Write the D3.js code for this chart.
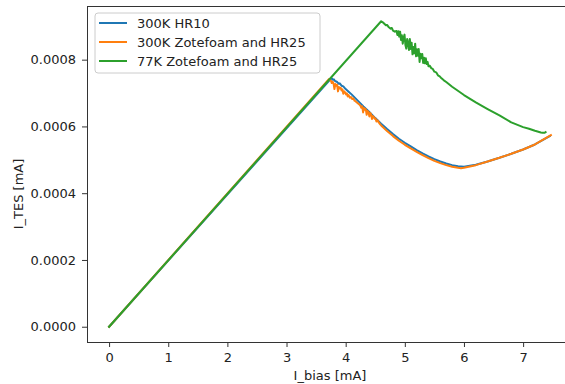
<!DOCTYPE html>
<html>
<head>
<meta charset="utf-8">
<script src="https://cdn.jsdelivr.net/npm/d3@7"></script>
<style>
  body { margin: 0; background: #fff; }
  svg { display: block; font-family: "DejaVu Sans", sans-serif; }
  .tick text { fill: #222; }
</style>
</head>
<body>
<div id="chart"></div>
<script>
// I_bias [mA] / I_TES [1e-4 mA]
const hr10X = [0, 3.76, 3.78, 3.80, 3.82, 3.85, 3.88, 3.90, 3.93, 3.96, 4.00, 4.05, 4.10, 4.20, 4.30, 4.40, 4.50, 4.60, 4.70, 4.80, 4.90, 5.00, 5.10, 5.20, 5.30, 5.40, 5.50, 5.60, 5.70, 5.80, 5.90, 6.00, 6.20, 6.40, 6.60, 6.80, 7.00, 7.20, 7.45];
const hr10Y = [0, 7.45, 7.40, 7.41, 7.36, 7.34, 7.28, 7.29, 7.22, 7.20, 7.12, 7.04, 6.96, 6.78, 6.60, 6.43, 6.25, 6.08, 5.92, 5.77, 5.63, 5.51, 5.40, 5.29, 5.19, 5.10, 5.02, 4.95, 4.89, 4.84, 4.81, 4.79, 4.85, 4.95, 5.06, 5.18, 5.31, 5.46, 5.71];

const zoteX = [0, 3.72, 3.735, 3.75, 3.765, 3.78, 3.795, 3.81, 3.825, 3.84, 3.855, 3.87, 3.885, 3.90, 3.915, 3.93, 3.945, 3.96, 3.975, 3.99, 4.005, 4.02, 4.035, 4.05, 4.07, 4.09, 4.11, 4.13, 4.15, 4.17, 4.19, 4.21, 4.23, 4.25, 4.265, 4.28, 4.295, 4.31, 4.325, 4.34, 4.355, 4.37, 4.385, 4.40, 4.415, 4.43, 4.445, 4.46, 4.475, 4.49, 4.505, 4.52, 4.54, 4.56, 4.58, 4.60,
  4.70, 4.80, 4.90, 5.00, 5.10, 5.20, 5.30, 5.40, 5.50, 5.60, 5.70, 5.80, 5.90, 5.95, 6.00, 6.20, 6.40, 6.60, 6.80, 7.00, 7.20, 7.47];
const zoteY = [0, 7.42, 7.38, 7.37, 7.30, 7.34, 7.28, 7.12, 7.27, 7.22, 7.25, 7.05, 7.18, 7.14, 7.16, 7.08, 7.11, 6.98, 7.05, 7.02, 6.96, 6.99, 6.90, 6.94, 6.86, 6.88, 6.82, 6.84, 6.77, 6.75, 6.72, 6.69, 6.66, 6.62, 6.56, 6.60, 6.42, 6.55, 6.50, 6.52, 6.35, 6.46, 6.44, 6.30, 6.40, 6.36, 6.22, 6.31, 6.28, 6.23, 6.24, 6.15, 6.18, 6.12, 6.07, 6.03,
  5.86, 5.71, 5.57, 5.45, 5.34, 5.24, 5.14, 5.05, 4.97, 4.90, 4.84, 4.79, 4.76, 4.75, 4.76, 4.84, 4.95, 5.06, 5.18, 5.31, 5.46, 5.74];

const cold77X = [0, 4.60, 4.64, 4.68, 4.70, 4.73, 4.76, 4.78, 4.80, 4.83, 4.845,
  4.860, 4.875, 4.890, 4.905, 4.920, 4.935, 4.950, 4.965, 4.980, 4.995, 5.010, 5.025, 5.040, 5.055, 5.070, 5.085, 5.100, 5.115, 5.130, 5.145, 5.160, 5.175, 5.190, 5.205, 5.220, 5.235, 5.250, 5.265, 5.280, 5.295, 5.310, 5.325, 5.340, 5.355, 5.370, 5.385, 5.400,
  5.42, 5.45, 5.47, 5.50, 5.53, 5.56, 5.59, 5.62, 5.66, 5.70, 5.80, 6.00, 6.20, 6.40, 6.60, 6.80, 7.00, 7.10, 7.20, 7.30, 7.33, 7.36, 7.38];
const cold77Y = [0, 9.15, 9.10, 9.03, 9.04, 8.97, 8.93, 8.95, 8.87, 8.84, 8.85,
  8.86, 8.74, 8.85, 8.69, 8.84, 8.59, 8.73, 8.48, 8.66, 8.75, 8.44, 8.33, 8.62, 8.51, 8.29, 8.62, 8.32, 8.51, 8.16, 8.38, 8.19, 8.48, 8.10, 8.31, 8.12, 8.32, 7.93, 8.18, 8.04, 8.17, 7.90, 8.06, 7.89, 8.04, 7.87, 7.93, 7.80,
  7.82, 7.74, 7.73, 7.64, 7.62, 7.53, 7.50, 7.44, 7.38, 7.33, 7.19, 6.94, 6.72, 6.52, 6.33, 6.12, 5.98, 5.93, 5.87, 5.82, 5.81, 5.81, 5.83];

const seriesNames = ['300K HR10', '300K Zotefoam and HR25', '77K Zotefoam and HR25'];
const seriesColors = ['#1f77b4', '#ff7f0e', '#2ca02c'];
const xTicks = [0, 1, 2, 3, 4, 5, 6, 7];
const yTicks = [0, 0.0002, 0.0004, 0.0006, 0.0008];

const width = 565, height = 384;
const margin = {top: 6, right: -8, bottom: 42, left: 87};

const series = [[hr10X, hr10Y], [zoteX, zoteY], [cold77X, cold77Y]].map(([xs, ys], i) => ({
  name: seriesNames[i],
  color: seriesColors[i],
  values: xs.map((x, j) => ({x: x, y: ys[j] * 1e-4}))
}));

const svg = d3.select('#chart').append('svg')
  .attr('width', width)
  .attr('height', height);

svg.append('rect').attr('width', width).attr('height', height).attr('fill', '#fff');

// matplotlib style 5% padding around data
const all = series.flatMap(s => s.values);
const [x0, x1] = d3.extent(all, d => d.x);
const [y0, y1] = d3.extent(all, d => d.y);
const xPad = (x1 - x0) * 0.05, yPad = (y1 - y0) * 0.05;

const x = d3.scaleLinear()
  .domain([x0 - xPad, x1 + xPad])
  .range([margin.left, width - margin.right]);

const y = d3.scaleLinear()
  .domain([y0 - yPad, y1 + yPad])
  .range([height - margin.bottom, margin.top]);

svg.append('clipPath').attr('id', 'clip')
  .append('rect')
    .attr('x', margin.left).attr('y', margin.top)
    .attr('width', width - margin.right - margin.left)
    .attr('height', height - margin.bottom - margin.top);

const line = d3.line().x(d => x(d.x)).y(d => y(d.y));

svg.append('g').attr('clip-path', 'url(#clip)')
  .selectAll('path')
  .data(series)
  .enter().append('path')
    .attr('d', d => line(d.values))
    .attr('fill', 'none')
    .attr('stroke', d => d.color)
    .attr('stroke-width', 2)
    .attr('stroke-linejoin', 'round')
    .attr('stroke-linecap', 'square');

// axes
svg.append('g')
  .attr('transform', 'translate(0,' + (height - margin.bottom) + ')')
  .call(d3.axisBottom(x).tickValues(xTicks).tickFormat(d3.format('d')).tickSize(5).tickPadding(6).tickSizeOuter(0))
  .call(g => g.selectAll('text').attr('font-size', 13).attr('font-family', 'DejaVu Sans'));

svg.append('g')
  .attr('transform', 'translate(' + margin.left + ',0)')
  .call(d3.axisLeft(y).tickValues(yTicks).tickFormat(d => d.toFixed(4)).tickSize(5).tickPadding(6).tickSizeOuter(0))
  .call(g => g.selectAll('text').attr('font-size', 13).attr('font-family', 'DejaVu Sans'));

svg.selectAll('.domain').remove();
svg.selectAll('.tick line').attr('stroke', '#333');

svg.append('rect')
  .attr('x', margin.left + 0.5).attr('y', margin.top + 0.5)
  .attr('width', width - margin.right - margin.left)
  .attr('height', height - margin.bottom - margin.top)
  .attr('fill', 'none')
  .attr('stroke', '#333')
  .attr('stroke-width', 1);

svg.append('text')
  .attr('x', (margin.left + width - margin.right) / 2)
  .attr('y', 380)
  .attr('text-anchor', 'middle')
  .attr('font-size', 13)
  .attr('fill', '#222')
  .text('I_bias [mA]');

svg.append('text')
  .attr('transform', 'translate(23,194) rotate(-90)')
  .attr('text-anchor', 'middle')
  .attr('font-size', 13)
  .attr('fill', '#222')
  .text('I_TES [mA]');

// legend
const legend = svg.append('g').attr('transform', 'translate(95,13)');
legend.append('rect')
  .attr('width', 225).attr('height', 60).attr('rx', 3)
  .attr('fill', '#fff').attr('fill-opacity', 0.8)
  .attr('stroke', '#ccc');

const item = legend.selectAll('.item')
  .data(series)
  .enter().append('g')
    .attr('class', 'item')
    .attr('transform', (d, i) => 'translate(0,' + (10 + i * 19) + ')');

item.append('line')
  .attr('x1', 4).attr('x2', 32)
  .attr('stroke', d => d.color).attr('stroke-width', 2);

item.append('text')
  .attr('x', 42).attr('dy', '0.35em')
  .attr('font-size', 13)
  .attr('fill', '#222')
  .text(d => d.name);
</script>
</body>
</html>
